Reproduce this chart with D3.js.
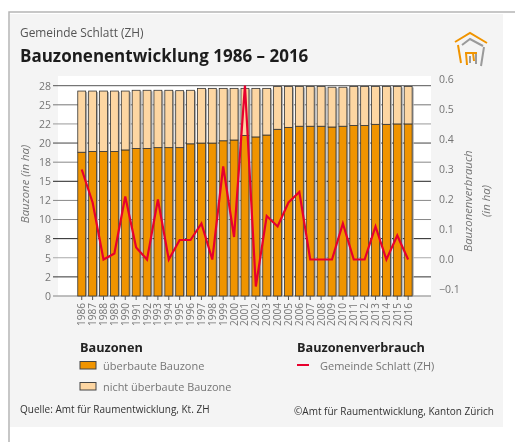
<!DOCTYPE html>
<html lang="de">

<head>
  <meta charset="UTF-8">
  <title>Bauzonenentwicklung</title>
  <script src="https://cdn.jsdelivr.net/npm/d3@7/dist/d3.min.js"></script>
  <style>
    html, body { margin: 0; padding: 0; background: #fff; }
    svg { display: block; filter: blur(0.35px); }
    text { font-family: "Open Sans", "Noto Sans", sans-serif; }
  </style>
</head>

<body>
  <svg></svg>

  <script>
    const years = d3.range(1986, 2017).map(String);
    const built = [18.8, 18.9, 18.9, 18.9, 19.1, 19.3, 19.3, 19.4, 19.4, 19.4, 19.9, 20.0, 20.0, 20.3, 20.4, 21.0,
      20.8, 21.05, 21.8, 22.05, 22.2, 22.2, 22.2, 22.1, 22.2, 22.3, 22.3, 22.45, 22.45, 22.5, 22.5];
    const unbuilt = [8.0, 7.9, 7.9, 7.9, 7.7, 7.6, 7.6, 7.5, 7.5, 7.45, 7.0, 7.15, 7.15, 6.85, 6.75, 6.15,
      6.35, 6.1, 5.6, 5.35, 5.2, 5.2, 5.2, 5.2, 5.1, 5.1, 5.1, 4.95, 4.95, 4.9, 4.9];
    const usage = [0.30, 0.19, 0.0, 0.02, 0.21, 0.04, 0.0, 0.20, 0.0, 0.065, 0.065, 0.12, 0.0, 0.31, 0.075, 0.58,
      -0.09, 0.145, 0.11, 0.19, 0.225, 0.0, 0.0, 0.0, 0.12, 0.0, 0.0, 0.11, 0.0, 0.08, 0.0];
    const leftTicks = [0, 2.5, 5, 7.5, 10, 12.5, 15, 17.5, 20, 22.5, 25, 27.5];
    const leftLabels = ["0", "2", "5", "8", "10", "12", "15", "18", "20", "22", "25", "28"];
    const gridColors = ["#aaa", "#333", "#aaa", "#222", "#888", "#888", "#222", "#888", "#444", "#999", "#777", "#555"];
    const rightTicks = [-0.1, 0, 0.1, 0.2, 0.3, 0.4, 0.5, 0.6];

    const width = 515;
    const height = 442;
    const orange = "#f09400";
    const lightOrange = "#fdd6a2";
    const red = "#e8002d";
    const darkText = "#757575";

    const svg = d3.select("svg").attr("width", width).attr("height", height);

    // outer frame and grey panel
    svg.append("rect").attr("x", 9).attr("y", 12).attr("width", 520).attr("height", 450).attr("fill", "#fff")
      .attr("stroke", "#b5b5b5").attr("stroke-width", 1.5);
    svg.append("rect").attr("x", 10).attr("y", 14).attr("width", 493).attr("height", 413).attr("fill", "#f4f4f4");
    svg.append("rect").attr("x", 58).attr("y", 76).attr("width", 373).attr("height", 220).attr("fill", "#fff");

    const x = d3.scaleBand().domain(years).range([76.3, 413.6]).paddingInner(0.27).paddingOuter(0.135);
    const y = d3.scaleLinear().domain([0, 27.5]).range([296, 85.7]);
    const yRight = d3.scaleLinear().domain([-0.1, 0.6]).range([289.5, 79.5]);

    const axisLeft = svg.append("g").attr("transform", "translate(53,0)")
      .call(d3.axisLeft(y).tickValues(leftTicks).tickFormat((d, i) => leftLabels[i]).tickSize(0).tickPadding(2));
    axisLeft.select(".domain").remove();
    axisLeft.selectAll("text").attr("font-size", 10.5).attr("fill", darkText);

    // grid lines also work as left ticks
    svg.append("g").selectAll("line").data(leftTicks).enter().append("line")
      .attr("x1", 53).attr("x2", 431)
      .attr("y1", d => y(d)).attr("y2", d => y(d))
      .attr("stroke", (d, i) => gridColors[i])
      .attr("stroke-width", (d, i) => i == 0 ? 1.5 : 1);

    const rows = years.map((year, i) => ({ year: year, built: built[i], unbuilt: unbuilt[i] }));
    const stacked = d3.stack().keys(["built", "unbuilt"])(rows);

    // grey shadow on the right side of each bar
    svg.append("g").selectAll("rect").data(rows).enter().append("rect")
      .attr("x", d => x(d.year) + x.bandwidth())
      .attr("width", 1.6)
      .attr("y", d => y(d.built + d.unbuilt) + 1)
      .attr("height", d => y(0) - y(d.built + d.unbuilt) - 1)
      .attr("fill", "#b0b0b0");

    svg.append("g").selectAll("g").data(stacked).enter().append("g")
      .attr("fill", d => d.key == "built" ? orange : lightOrange)
      .selectAll("rect").data(d => d).enter().append("rect")
      .attr("x", d => x(d.data.year))
      .attr("width", x.bandwidth())
      .attr("y", d => y(d[1]))
      .attr("height", d => y(d[0]) - y(d[1]))
      .attr("stroke", "#333")
      .attr("stroke-width", 0.8);

    const axisBottom = svg.append("g").attr("transform", "translate(0,296)")
      .call(d3.axisBottom(x).tickSize(4));
    axisBottom.select(".domain").remove();
    axisBottom.selectAll("line").attr("stroke", "#555");
    axisBottom.selectAll("text")
      .attr("font-size", 10)
      .attr("fill", darkText)
      .attr("text-anchor", "end")
      .attr("transform", "rotate(-90)")
      .attr("x", -7)
      .attr("y", 0)
      .attr("dy", "0.35em");

    const line = d3.line().x((d, i) => x(years[i]) + x.bandwidth() / 2).y(d => yRight(d));
    svg.append("path").datum(usage)
      .attr("d", line)
      .attr("fill", "none")
      .attr("stroke", red)
      .attr("stroke-width", 2.2)
      .attr("stroke-linejoin", "miter");

    const axisRight = svg.append("g").attr("transform", "translate(431,0)")
      .call(d3.axisRight(yRight).tickValues(rightTicks).tickFormat(d3.format(".1f")).tickSize(0).tickPadding(8));
    axisRight.select(".domain").remove();
    axisRight.selectAll("text").attr("font-size", 10.5).attr("fill", darkText);

    function addText(tx, ty, str, size, fill, weight, anchor, style) {
      return svg.append("text").attr("x", tx).attr("y", ty).text(str)
        .attr("font-size", size).attr("fill", fill)
        .attr("font-weight", weight || "normal")
        .attr("text-anchor", anchor || "start")
        .attr("font-style", style || "normal");
    }

    // axis titles
    addText(0, 0, "Bauzone (in ha)", 11.4, darkText, "normal", "middle", "italic")
      .attr("transform", "translate(29,184) rotate(-90)");
    addText(0, 0, "Bauzonenverbrauch", 11.4, darkText, "normal", "middle", "italic")
      .attr("transform", "translate(472,201) rotate(-90)");
    addText(0, 0, "(in ha)", 11.4, darkText, "normal", "middle", "italic")
      .attr("transform", "translate(490,201) rotate(-90)");

    // heading
    addText(20, 37, "Gemeinde Schlatt (ZH)", 11.9, "#555");
    addText(20, 62, "Bauzonenentwicklung 1986 – 2016", 17, "#1c1c1c", "bold");

    // logo
    const logo = svg.append("g").attr("fill", "none").attr("stroke-linejoin", "miter");
    logo.append("path").attr("d", "M462 45 L470 39 L483 46 M484 47 L481 66 M476 54 L476 64 M470 56 L470 63")
      .attr("stroke", "#9a9a9a").attr("stroke-width", 2);
    logo.append("path").attr("d", "M455 42 L470 33 L487 43 M458 45 L461 63 M465 53 L477 53 M466 53 L467 65 M473 53 L474 61")
      .attr("stroke", orange).attr("stroke-width", 2);

    // legend
    addText(80, 351.5, "Bauzonen", 12.7, "#222", "bold");
    addText(297, 351.5, "Bauzonenverbrauch", 12.7, "#222", "bold");
    svg.append("rect").attr("x", 80).attr("y", 361.5).attr("width", 16).attr("height", 7.5)
      .attr("fill", orange).attr("stroke", "#444");
    addText(103, 370, "überbaute Bauzone", 11, darkText);
    svg.append("rect").attr("x", 80).attr("y", 382.5).attr("width", 16).attr("height", 7.5)
      .attr("fill", lightOrange).attr("stroke", "#444");
    addText(103, 391, "nicht überbaute Bauzone", 10.9, darkText);
    svg.append("line").attr("x1", 297).attr("x2", 309).attr("y1", 365).attr("y2", 365)
      .attr("stroke", red).attr("stroke-width", 2);
    addText(320, 370, "Gemeinde Schlatt (ZH)", 11, darkText);

    addText(20, 413, "Quelle: Amt für Raumentwicklung, Kt. ZH", 10, "#333");
    addText(294, 415, "©Amt für Raumentwicklung, Kanton Zürich", 10, "#333");
  </script>
</body>

</html>
